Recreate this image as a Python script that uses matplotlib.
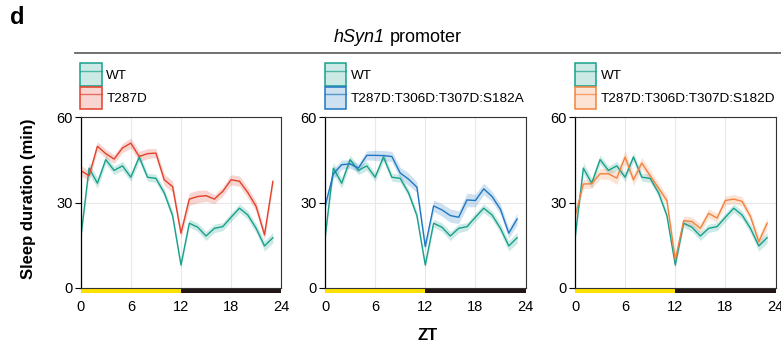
import matplotlib
matplotlib.use('Agg')
import matplotlib.pyplot as plt
from matplotlib.patches import Patch, Rectangle
from matplotlib.lines import Line2D
from matplotlib.legend_handler import HandlerTuple
import matplotlib.transforms as mtransforms

plt.rcParams['font.family'] = ['Liberation Sans', 'DejaVu Sans']

# hourly sleep (min), mean and sem
zt = list(range(24))
wt_mean = [17.4, 42.1, 36.8, 45.1, 41.3, 42.9, 38.9, 46.0, 38.9, 38.5, 33.4, 25.4,
           8.0, 22.7, 21.3, 18.2, 20.9, 21.5, 24.8, 28.0, 25.6, 20.9, 14.7, 17.6]
wt_sem = [1.5, 2.0, 1.8, 1.6, 1.5, 1.6, 1.5, 1.6, 1.4, 1.4, 1.4, 1.5,
          1.2, 1.4, 1.5, 1.6, 1.5, 1.4, 1.5, 1.5, 1.5, 1.6, 1.8, 1.9]

t287d_mean = [41.3, 39.4, 49.8, 47.2, 45.3, 49.2, 50.9, 46.2, 47.2, 47.4, 38.0, 35.6,
              19.2, 31.2, 32.1, 32.4, 31.2, 33.9, 38.0, 37.5, 33.5, 28.6, 18.6, 37.4]
t287d_sem = [1.8, 1.8, 1.6, 1.5, 1.5, 1.6, 1.8, 1.8, 1.8, 1.6, 2.0, 2.0,
             1.8, 2.2, 2.2, 2.0, 1.6, 1.6, 1.8, 1.8, 1.8, 1.8, 1.6, 1.8]

s182a_mean = [28.6, 40.1, 43.3, 43.6, 42.1, 46.6, 46.6, 46.5, 46.2, 40.4, 38.2, 35.4,
              14.5, 28.8, 27.4, 25.4, 24.8, 30.9, 30.7, 34.8, 32.1, 27.6, 19.2, 24.2]
s182a_sem = [1.8, 1.8, 1.6, 1.5, 1.5, 1.6, 1.8, 1.8, 1.8, 2.0, 2.2, 1.8,
             1.8, 2.0, 2.2, 2.4, 2.2, 2.4, 2.2, 2.0, 1.8, 1.8, 1.8, 2.0]

s182d_mean = [25.1, 36.5, 36.6, 40.1, 40.1, 38.6, 46.0, 38.0, 43.9, 39.4, 35.1, 30.7,
              9.8, 23.6, 23.3, 20.9, 26.2, 24.5, 30.7, 31.2, 30.4, 25.1, 16.2, 22.7]
s182d_sem = [1.8, 1.6, 1.6, 1.8, 2.0, 2.2, 2.2, 2.0, 2.0, 2.0, 1.8, 1.8,
             1.8, 1.6, 1.6, 1.6, 1.6, 1.6, 1.6, 1.6, 1.6, 1.6, 1.8, 2.0]

mutant_labels = ['T287D', 'T287D:T306D:T307D:S182A', 'T287D:T306D:T307D:S182D']
mutant_means = [t287d_mean, s182a_mean, s182d_mean]
mutant_sems = [t287d_sem, s182a_sem, s182d_sem]
mutant_colors = ['#e2412b', '#1f77c3', '#f3823f']
wt_color = '#18a08a'

fig = plt.figure(figsize=(7.81, 3.44), dpi=100)
W, H = 781.0, 344.0

lefts = [80.7, 325.0, 575.0]
ax_w = 200.5
ax_top, ax_bot = 117.3, 287.7


def draw_series(ax, mean, sem, color):
    lo = [m - s for m, s in zip(mean, sem)]
    hi = [m + s for m, s in zip(mean, sem)]
    ax.fill_between(zt, lo, hi, color=color, alpha=0.22, lw=0)
    ax.plot(zt, mean, color=color, lw=1.0)


for i in range(3):
    ax = fig.add_axes([lefts[i] / W, 1 - ax_bot / H, ax_w / W, (ax_bot - ax_top) / H])
    ax.set_xlim(0, 24)
    ax.set_ylim(0, 60)
    ax.set_xticks([0, 6, 12, 18, 24])
    ax.set_yticks([0, 30, 60])
    ax.grid(True, color='#e8e8e8', lw=0.8)
    ax.set_axisbelow(True)
    ax.tick_params(axis='x', length=0, pad=9, labelsize=10.5)
    ax.tick_params(axis='y', length=4, width=0.8, pad=2, labelsize=10.5)
    for side in ['top', 'right', 'bottom']:
        ax.spines[side].set_color('#333333')
        ax.spines[side].set_linewidth(0.8)
    ax.spines['left'].set_linewidth(0.9)

    draw_series(ax, wt_mean, wt_sem, wt_color)
    draw_series(ax, mutant_means[i], mutant_sems[i], mutant_colors[i])

    # light / dark phase bar under the axis
    trans = mtransforms.blended_transform_factory(ax.transData, ax.transAxes)
    ax.add_patch(Rectangle((0, -0.03), 12, 0.03, transform=trans, color='#ffe100',
                           clip_on=False, lw=0))
    ax.add_patch(Rectangle((12, -0.03), 12, 0.03, transform=trans, color='#211615',
                           clip_on=False, lw=0))

    handles = []
    for c in [wt_color, mutant_colors[i]]:
        handles.append((Patch(facecolor=c, edgecolor='none', alpha=0.22),
                        Line2D([], [], color=c, lw=1.0, alpha=0.7),
                        Patch(facecolor='none', edgecolor=c, lw=1.1)))
    fig.legend(handles, ['WT', mutant_labels[i]],
               handler_map={tuple: HandlerTuple(ndivide=1, pad=0)},
               loc='upper left', bbox_to_anchor=((lefts[i] - 0.5) / W, 1 - 63.5 / H),
               frameon=False, borderpad=0, borderaxespad=0, fontsize=9.7,
               handlelength=1.63, handleheight=2.15, labelspacing=0.08,
               handletextpad=0.3)

# panel header: italic promoter name followed by plain text
fig.text(385 / W, 1 - 37 / H, 'hSyn1', style='italic', ha='right', va='center',
         fontsize=13)
fig.text(390 / W, 1 - 37 / H, 'promoter', ha='left', va='center', fontsize=13)
fig.add_artist(Line2D([75 / W, 1.0], [1 - 52.5 / H, 1 - 52.5 / H], color='#666666',
                      lw=1.3))
fig.text(10 / W, 1 - 18 / H, 'd', fontsize=17, fontweight='bold', ha='left', va='center')
fig.text(29 / W, 1 - 199 / H, 'Sleep duration (min)', rotation=90, fontsize=12,
         fontweight='bold', ha='center', va='center')
fig.text(428 / W, 1 - 335 / H, 'ZT', fontsize=12, fontweight='bold', ha='center',
         va='center')

plt.savefig('out.png', dpi=100)
